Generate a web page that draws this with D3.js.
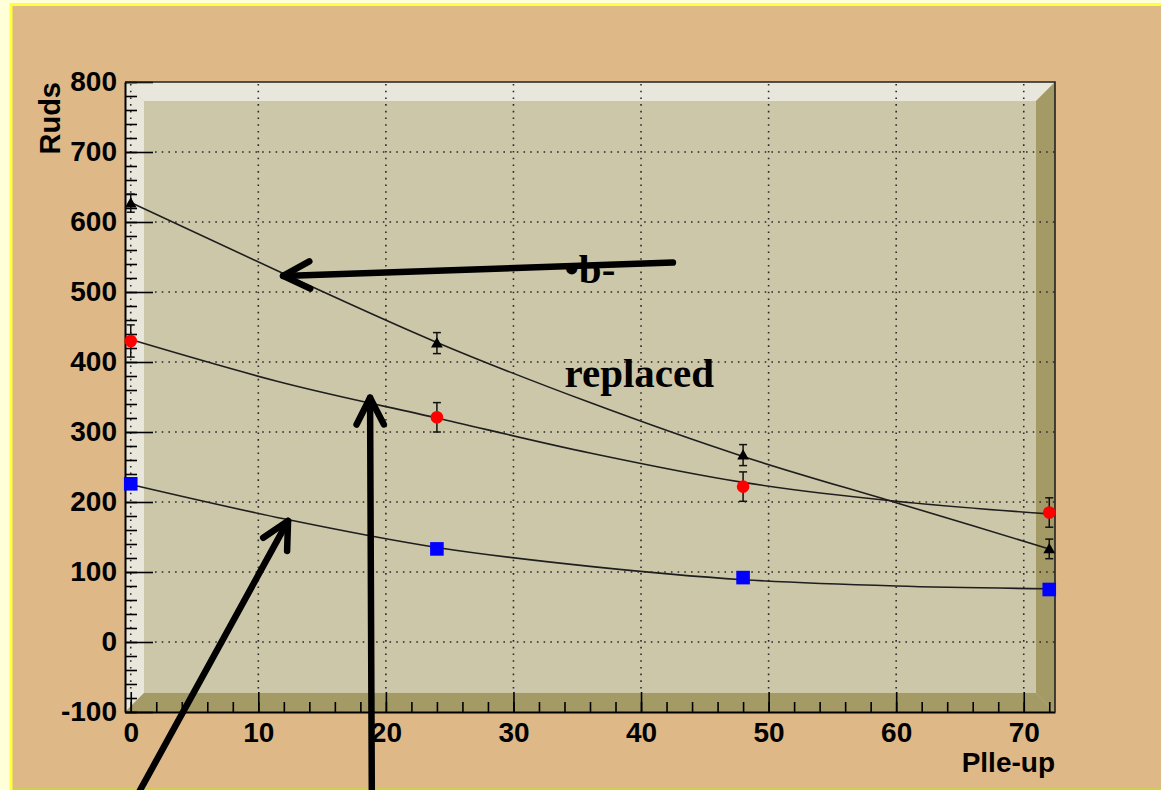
<!DOCTYPE html>
<html>
<head>
<meta charset="utf-8">
<script src="https://cdn.jsdelivr.net/npm/d3@7/dist/d3.min.js"></script>
<style>
  html, body { margin: 0; padding: 0; background: #ffffd8; }
  svg { display: block; }
</style>
</head>
<body>
<svg id="chart" width="1161" height="790"></svg>
<script>
// ---- data ----
const pileUp = [0, 24, 48, 72];

const triangleValues = [627, 427, 267, 133];
const triangleErrors = [13, 15, 15, 14];

const circleValues = [430, 321, 222, 185];
const circleErrors = [23, 21, 21, 21];

const squareValues = [226, 133, 92, 75];

// fitted curves, sampled along pile-up
const fitX = [0, 12, 24, 36, 48, 60, 72];
const triangleFit = [628, 526, 428, 342, 265, 199, 133];
const circleFit = [432, 370, 320, 270, 228, 201, 183];
const squareFit = [225, 176, 135, 108, 89, 80, 76];

const xTicks = [0, 10, 20, 30, 40, 50, 60, 70];
const yTicks = [-100, 0, 100, 200, 300, 400, 500, 600, 700, 800];
const xMinorTicks = d3.range(0, 73, 2);
const yMinorTicks = d3.range(-100, 801, 20);

const xTitle = "Plle-up";
const yTitle = "Ruds";

// annotations (in data units): arrow tip and tail
const arrows = [
  { tip: [11.94, 523], tail: [42.5, 542] },
  { tip: [18.76, 349], tail: [18.9, -230] },
  { tip: [12.33, 173], tail: [0.18, -230] }
];
const notes = [
  { text: "\u2022b-", at: [34.0, 513] },
  { text: "replaced", at: [34.0, 365] }
];

// ---- layout ----
const W = 1161, H = 790;
const frame = { left: 125, right: 1055, top: 82, bottom: 712 };
const bevel = 19;

const svg = d3.select("#chart");

// canvas border and pad fill
svg.append("rect").attr("x", 0).attr("y", 0).attr("width", W).attr("height", H).attr("fill", "#ffffd8");
svg.append("rect").attr("x", 9.5).attr("y", 3).attr("width", W).attr("height", H - 3).attr("fill", "#ffff3c");
svg.append("rect").attr("x", 12.5).attr("y", 6).attr("width", W).attr("height", 782).attr("fill", "#deb887");
svg.append("rect").attr("x", 12.5).attr("y", 788).attr("width", W).attr("height", 2).attr("fill", "#d4cc52");

const x = d3.scaleLinear().domain([-0.45, 72.45]).range([frame.left, frame.right]);
const y = d3.scaleLinear().domain([-100, 800]).range([frame.bottom, frame.top]);

// ---- frame with 3D bevel ----
const L = frame.left, R = frame.right, T = frame.top, B = frame.bottom;
const poly = pts => "M" + pts.map(p => p.join(",")).join("L") + "Z";
svg.append("rect").attr("x", L).attr("y", T).attr("width", R - L).attr("height", B - T).attr("fill", "#cdc7aa");
svg.append("path").attr("d", poly([[L, T], [R, T], [R - bevel, T + bevel], [L + bevel, T + bevel]])).attr("fill", "#e9e7dc");
svg.append("path").attr("d", poly([[L, T], [L + bevel, T + bevel], [L + bevel, B - bevel], [L, B]])).attr("fill", "#e9e7dc");
svg.append("path").attr("d", poly([[L, B], [L + bevel, B - bevel], [R - bevel, B - bevel], [R, B]])).attr("fill", "#a39a66");
svg.append("path").attr("d", poly([[R, T], [R - bevel, T + bevel], [R - bevel, B - bevel], [R, B]])).attr("fill", "#a39a66");

// ---- dotted grid ----
const grid = svg.append("g").attr("stroke", "#2a2a2a").attr("stroke-width", 1.6)
  .attr("stroke-dasharray", "1.6,5.1").attr("fill", "none");
grid.selectAll("line.vx").data(xTicks).join("line").attr("class", "vx")
  .attr("x1", d => x(d)).attr("x2", d => x(d)).attr("y1", T + 2).attr("y2", B - bevel);
grid.selectAll("line.hy").data(yTicks.filter(v => v > -100 && v < 800)).join("line").attr("class", "hy")
  .attr("x1", L + 30).attr("x2", R).attr("y1", d => y(d)).attr("y2", d => y(d));

// ---- axes ----
const axisFont = "'Liberation Sans', Arial, sans-serif";
const plain = d => String(d);

const yMinor = svg.append("g").attr("transform", `translate(${L},0)`)
  .call(d3.axisLeft(y).tickValues(yMinorTicks).tickSize(-12).tickFormat(""));
yMinor.select(".domain").remove();
const yMajor = svg.append("g").attr("transform", `translate(${L},0)`)
  .call(d3.axisLeft(y).tickValues(yTicks).tickSize(-28).tickPadding(8).tickSizeOuter(0).tickFormat(plain));

const xMinor = svg.append("g").attr("transform", `translate(0,${B})`)
  .call(d3.axisBottom(x).tickValues(xMinorTicks).tickSize(-10).tickFormat(""));
xMinor.select(".domain").remove();
const xMajor = svg.append("g").attr("transform", `translate(0,${B})`)
  .call(d3.axisBottom(x).tickValues(xTicks).tickSize(-20).tickPadding(10).tickSizeOuter(0).tickFormat(plain));

[yMinor, yMajor, xMinor, xMajor].forEach(g => {
  g.selectAll("line").attr("stroke", "#000").attr("stroke-width", 1.6);
  g.selectAll(".domain").attr("stroke", "#000").attr("stroke-width", 2);
  g.selectAll("text").attr("font-family", axisFont).attr("font-weight", "bold")
    .attr("font-size", 28).attr("fill", "#000");
});

// frame outline on top/right
svg.append("path").attr("d", `M${L},${T}L${R},${T}L${R},${B}`).attr("fill", "none")
  .attr("stroke", "#222").attr("stroke-width", 1.6);

// axis titles
svg.append("text").attr("transform", `translate(60,${T}) rotate(-90)`)
  .attr("text-anchor", "end").attr("font-family", axisFont).attr("font-weight", "bold")
  .attr("font-size", 29).text(yTitle);
svg.append("text").attr("x", R).attr("y", 772)
  .attr("text-anchor", "end").attr("font-family", axisFont).attr("font-weight", "bold")
  .attr("font-size", 28).text(xTitle);

// ---- fit curves ----
const curve = d3.line().x(d => x(d[0])).y(d => y(d[1])).curve(d3.curveMonotoneX);
[triangleFit, circleFit, squareFit].forEach(vals => {
  svg.append("path").datum(fitX.map((xv, i) => [xv, vals[i]]))
    .attr("d", curve).attr("fill", "none").attr("stroke", "#1e1e1e").attr("stroke-width", 1.6);
});

// ---- error bars ----
function errorBars(vals, errs) {
  const g = svg.append("g").attr("stroke", "#111").attr("stroke-width", 1.5);
  pileUp.forEach((xv, i) => {
    const cx = x(xv), lo = y(vals[i] - errs[i]), hi = y(vals[i] + errs[i]);
    g.append("line").attr("x1", cx).attr("x2", cx).attr("y1", lo).attr("y2", hi);
    g.append("line").attr("x1", cx - 4).attr("x2", cx + 4).attr("y1", lo).attr("y2", lo);
    g.append("line").attr("x1", cx - 4).attr("x2", cx + 4).attr("y1", hi).attr("y2", hi);
  });
}
errorBars(triangleValues, triangleErrors);
errorBars(circleValues, circleErrors);

// ---- markers ----
const tri = d3.symbol().type(d3.symbolTriangle).size(60);
svg.append("g").selectAll("path").data(pileUp).join("path")
  .attr("transform", (d, i) => `translate(${x(d)},${y(triangleValues[i]) + 1})`)
  .attr("d", tri).attr("fill", "#000");
svg.append("g").selectAll("circle").data(pileUp).join("circle")
  .attr("cx", d => x(d)).attr("cy", (d, i) => y(circleValues[i])).attr("r", 6.3).attr("fill", "#ff0000");
svg.append("g").selectAll("rect").data(pileUp).join("rect")
  .attr("x", d => x(d) - 6.8).attr("y", (d, i) => y(squareValues[i]) - 6.8)
  .attr("width", 13.6).attr("height", 13.6).attr("fill", "#0000ff");

// ---- annotations ----
const noteFont = "'Liberation Serif', 'Times New Roman', serif";
svg.append("g").selectAll("text").data(notes).join("text")
  .attr("x", d => x(d.at[0])).attr("y", d => y(d.at[1]))
  .attr("font-family", noteFont).attr("font-weight", "bold").attr("font-size", 41)
  .attr("fill", "#000").text(d => d.text);

const armLen = 30, armAngle = 27 * Math.PI / 180;
const arrowG = svg.append("g").attr("stroke", "#000").attr("stroke-width", 6.5)
  .attr("stroke-linecap", "round").attr("stroke-linejoin", "round").attr("fill", "none");
arrows.forEach(a => {
  const tx = x(a.tip[0]), ty = y(a.tip[1]);
  const sx = x(a.tail[0]), sy = y(a.tail[1]);
  const len = Math.hypot(sx - tx, sy - ty);
  const ux = (sx - tx) / len, uy = (sy - ty) / len;
  const rot = ang => [tx + armLen * (ux * Math.cos(ang) - uy * Math.sin(ang)),
                      ty + armLen * (ux * Math.sin(ang) + uy * Math.cos(ang))];
  const a1 = rot(armAngle), a2 = rot(-armAngle);
  arrowG.append("line").attr("x1", sx).attr("y1", sy).attr("x2", tx).attr("y2", ty);
  arrowG.append("path").attr("d", `M${a1[0]},${a1[1]}L${tx},${ty}L${a2[0]},${a2[1]}`);
});
</script>
</body>
</html>
